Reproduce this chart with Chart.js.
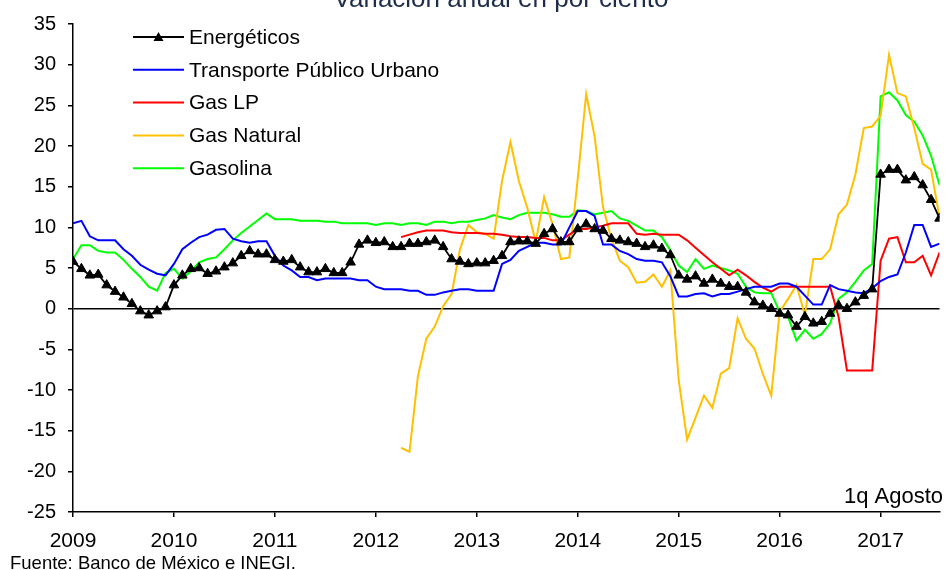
<!DOCTYPE html>
<html lang="es">
<head>
<meta charset="UTF-8">
<title>Energéticos - Variación anual en por ciento</title>
<script src="https://cdn.jsdelivr.net/npm/chart.js"></script>
<style>
  body { margin: 0; background: #fff; }
  #wrap { width: 946px; height: 570px; }
</style>
</head>
<body>
<div id="wrap"><canvas id="chart" width="946" height="570"></canvas></div>
<script>
// monthly series, Jan 2009 .. 1q Aug 2017
const firstYear = 2009;
const yearLabels = ['2009', '2010', '2011', '2012', '2013', '2014', '2015', '2016', '2017'];
const seriesNames = ['Energéticos', 'Transporte Público Urbano', 'Gas LP', 'Gas Natural', 'Gasolina'];

const energeticos = [
  5.8, 4.9, 4.1, 4.2, 2.9, 2.1, 1.4, 0.6, -0.3, -0.8, -0.3, 0.2,
  2.9, 4.1, 4.9, 5.0, 4.3, 4.6, 5.1, 5.6, 6.5, 7.1, 6.7, 6.7,
  6.0, 5.8, 6.0, 5.1, 4.5, 4.5, 4.9, 4.4, 4.4, 5.7, 7.9, 8.4,
  8.1, 8.2, 7.6, 7.6, 8.0, 8.0, 8.2, 8.4, 7.6, 6.1, 5.8, 5.5,
  5.6, 5.6, 5.9, 6.5, 8.2, 8.3, 8.3, 8.0, 9.2, 9.8, 8.2, 8.2,
  9.8, 10.4, 9.8, 9.6, 8.6, 8.4, 8.2, 8.0, 7.6, 7.8, 7.4, 6.6,
  4.1, 3.6, 4.0, 3.1, 3.6, 3.1, 2.7, 2.7, 2.0, 0.8, 0.4, 0.0,
  -0.6, -0.8, -2.2, -1.0, -1.8, -1.6, -0.6, 0.4, 0.0, 0.8, 1.6, 2.4,
  16.5, 17.1, 17.1, 15.8, 16.2, 15.2, 13.4, 11.1
];
const transporte = [
  10.5, 10.8, 8.9, 8.4, 8.4, 8.4, 7.3, 6.5, 5.4, 4.8, 4.3, 4.1,
  5.5, 7.3, 8.1, 8.8, 9.1, 9.7, 9.8, 8.6, 8.3, 8.1, 8.3, 8.3,
  6.5, 5.3, 4.7, 3.9, 3.9, 3.5, 3.7, 3.7, 3.7, 3.7, 3.5, 3.5,
  2.7, 2.4, 2.4, 2.4, 2.2, 2.2, 1.7, 1.7, 2.0, 2.2, 2.4, 2.4,
  2.2, 2.2, 2.2, 5.5, 6.0, 7.1, 7.6, 8.1, 8.1, 7.9, 7.9, 10.0,
  12.0, 12.0, 11.4, 7.9, 7.9, 7.1, 6.7, 6.1, 5.9, 5.9, 5.7, 4.0,
  1.5, 1.5, 1.8, 1.9, 1.5, 1.8, 1.8, 2.1, 2.4, 2.7, 2.7, 2.7,
  3.1, 3.1, 2.7, 1.6, 0.5, 0.5, 2.9, 2.4, 2.2, 2.0, 1.9, 2.5,
  3.4, 3.9, 4.2, 6.9, 10.3, 10.3, 7.6, 8.0
];
const gasLP = [
  null, null, null, null, null, null, null, null, null, null, null, null,
  null, null, null, null, null, null, null, null, null, null, null, null,
  null, null, null, null, null, null, null, null, null, null, null, null,
  null, null, null, 8.8, 9.1, 9.4, 9.6, 9.6, 9.6, 9.4, 9.3, 9.3,
  9.3, 9.2, 9.2, 9.1, 8.9, 8.8, 8.8, 8.7, 8.7, 8.4, 8.4, 9.1,
  9.8, 9.8, 10.0, 10.2, 10.5, 10.5, 10.5, 9.2, 9.1, 9.2, 9.1, 9.1,
  9.1, 8.4, 7.5, 6.6, 5.7, 4.9, 4.1, 4.8, 4.1, 3.3, 2.6, 2.1,
  2.7, 2.7, 2.7, 2.7, 2.7, 2.7, 2.7, -1.0, -7.6, -7.6, -7.6, -7.6,
  5.9, 8.6, 8.8, 5.7, 5.7, 6.5, 4.1, 6.9
];
const gasNatural = [
  null, null, null, null, null, null, null, null, null, null, null, null,
  null, null, null, null, null, null, null, null, null, null, null, null,
  null, null, null, null, null, null, null, null, null, null, null, null,
  null, null, null, -17.1, -17.6, -8.3, -3.7, -2.2, 0.3, 1.8, 7.3, 10.3,
  9.4, 9.2, 8.6, 15.7, 20.5, 15.7, 12.4, 8.2, 13.7, 10.4, 6.1, 6.3,
  16.0, 26.4, 21.2, 12.5, 8.6, 5.9, 5.1, 3.2, 3.3, 4.2, 2.7, 4.7,
  -8.8, -16.1, -13.4, -10.7, -12.2, -8.0, -7.3, -1.2, -3.7, -4.9, -8.0, -10.7,
  -0.4, 1.2, 2.9, -0.8, 6.1, 6.1, 7.3, 11.6, 12.8, 16.5, 22.2, 22.4,
  23.7, 31.2, 26.5, 26.1, 22.2, 17.8, 17.1, 11.2
];
const gasolina = [
  6.1, 7.8, 7.8, 7.1, 6.9, 6.9, 6.0, 4.9, 3.9, 2.7, 2.2, 4.4,
  4.9, 3.7, 4.6, 5.7, 6.1, 6.3, 7.3, 8.4, 9.3, 10.1, 10.9, 11.7,
  11.0, 11.0, 11.0, 10.8, 10.8, 10.8, 10.7, 10.7, 10.5, 10.5, 10.5, 10.5,
  10.3, 10.5, 10.5, 10.3, 10.5, 10.5, 10.3, 10.7, 10.7, 10.5, 10.7, 10.7,
  10.9, 11.1, 11.5, 11.2, 11.0, 11.5, 11.8, 11.8, 11.8, 11.6, 11.3, 11.3,
  12.1, 12.0, 11.6, 11.8, 12.0, 11.1, 10.8, 10.2, 9.6, 9.6, 8.8, 7.2,
  5.3, 4.5, 6.1, 4.9, 5.3, 5.0, 4.7, 4.3, 2.7, 2.0, 1.9, 1.9,
  -0.4, -1.0, -3.9, -2.6, -3.7, -3.1, -1.8, 1.2, 2.0, 3.3, 4.7, 5.5,
  26.1, 26.6, 25.6, 23.8, 23.0, 21.3, 18.8, 15.2
];

const colors = ['#000000', '#0000ff', '#ff0000', '#ffc000', '#00ff00'];
const font = "'Liberation Sans', Arial, sans-serif";

function toPoints(arr) {
  return arr.map((v, i) => ({ x: i, y: v }));
}

// title (cut at top in the original), legend box, notes
const extras = {
  id: 'extras',
  afterDraw(chart) {
    const ctx = chart.ctx;
    ctx.save();
    ctx.fillStyle = '#1f2d4d';
    ctx.font = '26px ' + font;
    ctx.textAlign = 'center';
    ctx.textBaseline = 'alphabetic';
    ctx.fillText('Variación anual en por ciento', 501, 7);

    // legend
    ctx.font = '21px ' + font;
    ctx.textAlign = 'left';
    ctx.textBaseline = 'middle';
    chart.data.datasets.forEach((ds, i) => {
      const y = 37 + i * 32.8;
      ctx.strokeStyle = ds.borderColor;
      ctx.lineWidth = 2;
      ctx.beginPath();
      ctx.moveTo(133, y);
      ctx.lineTo(184, y);
      ctx.stroke();
      if (ds.pointStyle === 'triangle') {
        ctx.fillStyle = '#000';
        ctx.beginPath();
        ctx.moveTo(158.5, y - 5);
        ctx.lineTo(163.5, y + 4);
        ctx.lineTo(153.5, y + 4);
        ctx.closePath();
        ctx.fill();
      }
      ctx.fillStyle = '#000';
      ctx.fillText(ds.label, 189, y + 1);
    });

    ctx.font = '22px ' + font;
    ctx.textAlign = 'right';
    ctx.textBaseline = 'alphabetic';
    ctx.fillText('1q Agosto', 943, 503);

    ctx.font = '18.5px ' + font;
    ctx.textAlign = 'left';
    ctx.fillText('Fuente: Banco de México e INEGI.', 10, 569);
    ctx.restore();
  }
};

const ctx = document.getElementById('chart').getContext('2d');
new Chart(ctx, {
  type: 'line',
  data: {
    datasets: [
      { label: seriesNames[0], data: toPoints(energeticos), borderColor: colors[0], backgroundColor: colors[0],
        borderWidth: 1.8, pointStyle: 'triangle', pointRadius: 5.5, pointBorderWidth: 1 },
      { label: seriesNames[1], data: toPoints(transporte), borderColor: colors[1], borderWidth: 2, pointRadius: 0 },
      { label: seriesNames[2], data: toPoints(gasLP), borderColor: colors[2], borderWidth: 2, pointRadius: 0 },
      { label: seriesNames[3], data: toPoints(gasNatural), borderColor: colors[3], borderWidth: 2, pointRadius: 0 },
      { label: seriesNames[4], data: toPoints(gasolina), borderColor: colors[4], borderWidth: 2, pointRadius: 0 }
    ]
  },
  options: {
    responsive: false,
    animation: false,
    layout: { padding: { left: 0, right: 3, top: 22, bottom: 0 } },
    plugins: { legend: { display: false }, tooltip: { enabled: false } },
    elements: { line: { tension: 0 } },
    scales: {
      x: {
        type: 'linear',
        min: 0,
        max: energeticos.length - 1,
        afterBuildTicks(scale) {
          scale.ticks = yearLabels.map((_, i) => ({ value: i * 12 }));
        },
        afterFit(scale) { scale.height = 58; },
        ticks: {
          color: '#000',
          font: { family: font, size: 21 },
          padding: 12,
          maxRotation: 0,
          autoSkip: false,
          callback: (v) => yearLabels[Math.round(v / 12)]
        },
        grid: { drawOnChartArea: false, tickLength: 5, tickColor: '#000', lineWidth: 1.5 },
        border: { color: '#000', width: 1.5 }
      },
      y: {
        min: -25,
        max: 35,
        afterFit(scale) { scale.width = 73; },
        ticks: {
          stepSize: 5,
          color: '#000',
          font: { family: font, size: 20 },
          padding: 12
        },
        grid: {
          drawOnChartArea: true,
          color: (c) => (c.tick && c.tick.value === 0 ? '#000' : 'rgba(0,0,0,0)'),
          lineWidth: 1.5,
          tickLength: 5,
          tickColor: '#000'
        },
        border: { color: '#000', width: 1.5 }
      }
    }
  },
  plugins: [extras]
});
</script>
</body>
</html>
